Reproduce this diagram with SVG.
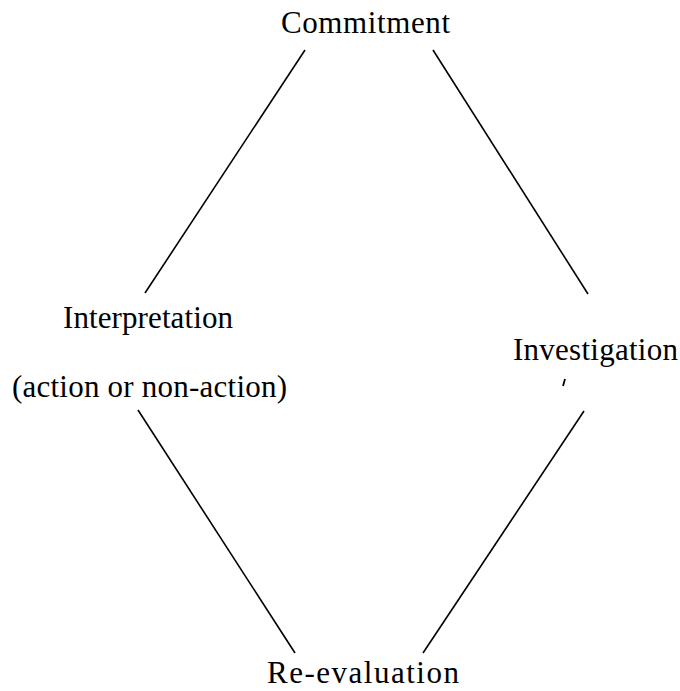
<svg xmlns="http://www.w3.org/2000/svg" width="680" height="691" viewBox="0 0 680 691">
<style>
text{font-family:"Liberation Serif","Times New Roman",serif;font-size:31px;fill:#000}
.c line{stroke:#000;stroke-width:1.6;fill:none}
</style>
<rect width="680" height="691" fill="#fff"/>
<g class="c" id="connectors">
<line x1="305" y1="50" x2="145" y2="293"/>
<line x1="433" y1="50" x2="588" y2="294"/>
<line x1="138" y1="410" x2="295" y2="653"/>
<line x1="584" y1="411" x2="423" y2="653"/>
</g>
<g id="commitment"><text x="281" y="33" textLength="169" lengthAdjust="spacing">Commitment</text></g>
<g id="interpretation"><text x="63" y="328" textLength="170" lengthAdjust="spacing">Interpretation</text><text x="12" y="397" textLength="275" lengthAdjust="spacing">(action or non-action)</text></g>
<g id="investigation"><text x="513" y="360" textLength="165" lengthAdjust="spacing">Investigation</text><line x1="565" y1="379" x2="563" y2="386" stroke="#000" stroke-width="1.8"/></g>
<g id="reevaluation"><text x="267" y="683" textLength="192" lengthAdjust="spacing">Re-evaluation</text></g>
</svg>
